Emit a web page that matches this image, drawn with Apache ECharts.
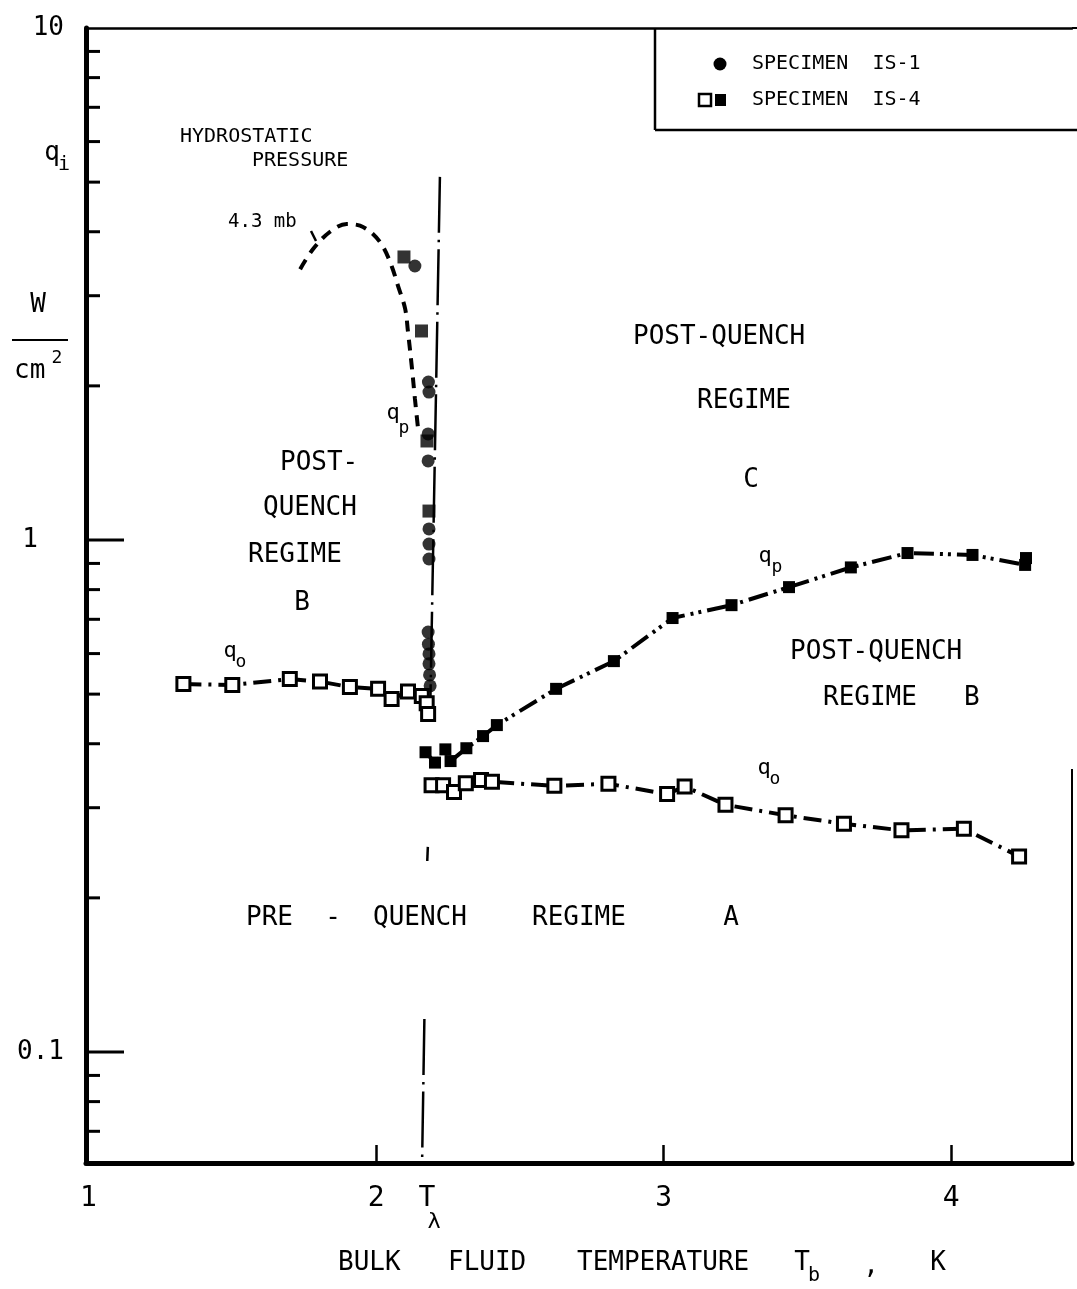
<!DOCTYPE html>
<html><head><meta charset="utf-8">
<script src="https://cdn.jsdelivr.net/npm/echarts@6/dist/echarts.min.js"></script>
<style>html,body{margin:0;padding:0;background:#fff}#c{width:1077px;height:1289px}</style>
</head><body><div id="c"></div>
<script>
// ---------- data (T in K, q in W/cm^2) ----------
// q_o, specimen IS-4 (open squares), below T-lambda
const qoLeftT = [1.33, 1.50, 1.70, 1.805, 1.909, 2.007, 2.054, 2.111, 2.159, 2.176, 2.181];
const qoLeftQ = [0.523, 0.521, 0.535, 0.529, 0.516, 0.512, 0.489, 0.506, 0.496, 0.480, 0.457];
// q_o, specimen IS-4 (open squares), above T-lambda
const qoRightT = [2.193, 2.233, 2.271, 2.312, 2.365, 2.403, 2.620, 2.808, 3.012, 3.073, 3.215, 3.424, 3.627, 3.827, 4.044, 4.236];
const qoRightQ = [0.332, 0.332, 0.322, 0.335, 0.340, 0.337, 0.331, 0.334, 0.319, 0.330, 0.304, 0.290, 0.279, 0.271, 0.273, 0.241];
// q_p, specimen IS-4 (filled squares), above T-lambda
const qpRightT = [2.172, 2.205, 2.241, 2.259, 2.314, 2.372, 2.420, 2.626, 2.827, 3.031, 3.236, 3.436, 3.651, 3.848, 4.074, 4.257, 4.260];
const qpRightQ = [0.385, 0.3675, 0.390, 0.370, 0.392, 0.414, 0.435, 0.512, 0.580, 0.704, 0.746, 0.809, 0.884, 0.943, 0.935, 0.894, 0.922];
// q_p near T-lambda, specimen IS-4 (filled squares)
const qpIS4T = [2.097, 2.158, 2.177, 2.184];
const qpIS4Q = [3.571, 2.560, 1.561, 1.139];
// q_p near T-lambda, specimen IS-1 (filled circles)
const qpIS1T = [2.135, 2.182, 2.184, 2.181, 2.181, 2.184, 2.184, 2.184, 2.181, 2.182, 2.184, 2.184, 2.186, 2.188];
const qpIS1Q = [3.429, 2.035, 1.945, 1.611, 1.427, 1.051, 0.982, 0.918, 0.661, 0.626, 0.599, 0.573, 0.545, 0.519];
// hydrostatic pressure 4.3 mb curve
const hydroT = [1.736, 1.781, 1.840, 1.898, 1.944, 1.989, 2.024, 2.054, 2.076, 2.101, 2.111, 2.125, 2.135, 2.146];
const hydroQ = [3.38, 3.70, 4.00, 4.14, 4.11, 3.96, 3.74, 3.43, 3.14, 2.83, 2.55, 2.16, 1.89, 1.65];
// T-lambda reference line (visible pieces)
const lambdaSegT = [[2.222, 2.189], [2.180, 2.178], [2.168, 2.160]];
const lambdaSegQ = [[5.12, 0.489], [0.2515, 0.236], [0.116, 0.0607]];
// axes
const X_MIN = 0.9913, X_MAX = 4.42, Y_MIN = 0.0607, Y_MAX = 10;
const xLabels = [1, 2, 3, 4];
const xTicks = [2, 3, 4];
const yMinorTicks = [9, 8, 7, 6, 5, 4, 3, 2, 0.9, 0.8, 0.7, 0.6, 0.5, 0.4, 0.3, 0.2, 0.09, 0.08, 0.07];
const yMajorTicks = [1, 0.1];
const rightBorderQ = [0.0607, 0.357];

// ---------- chart ----------
const BLACK = '#000';
const FONT = '"DejaVu Sans Mono", monospace';
const DASH_DOT = [18, 7, 3, 7];
const DASH_DOT_DOT = [20, 6, 3, 5, 3, 6];
const pair = (xs, ys) => xs.map((x, i) => [x, ys[i]]);

function txt(x, y, s, size, align) {
  return { type: 'text', x: x, y: y, silent: true, z: 100,
    style: { text: s, fill: BLACK, fontSize: size, fontFamily: FONT,
      textAlign: align || 'left', align: align || 'left', textVerticalAlign: 'middle', verticalAlign: 'middle' } };
}
function ln(x1, y1, x2, y2, w) {
  return { type: 'line', silent: true, z: 100, shape: { x1, y1, x2, y2 }, style: { stroke: BLACK, lineWidth: w || 2.5 } };
}

const chart = echarts.init(document.getElementById('c'), null, { renderer: 'canvas' });
const near = (a, b) => Math.abs(a - b) < 1e-9 * Math.max(1, b);

const option = {
  animation: false,
  backgroundColor: '#fff',
  grid: { left: 86, right: 5, top: 28, bottom: 126 },
  xAxis: [{
    type: 'value', min: X_MIN, max: X_MAX,
    axisLine: { show: true, onZero: false, lineStyle: { color: BLACK, width: 5 } },
    axisTick: { show: true, inside: true, length: 18, customValues: xTicks, lineStyle: { color: BLACK, width: 2.5 } },
    axisLabel: { customValues: xLabels, margin: 22, color: BLACK, fontSize: 28, fontFamily: FONT, formatter: v => String(v) },
    splitLine: { show: false }
  }, {
    type: 'value', position: 'top', min: X_MIN, max: X_MAX,
    axisLine: { show: true, onZero: false, lineStyle: { color: BLACK, width: 2.5 } },
    axisTick: { show: false }, axisLabel: { show: false }, splitLine: { show: false }
  }],
  yAxis: {
    type: 'log', logBase: 10, min: Y_MIN, max: Y_MAX,
    axisLine: { show: true, onZero: false, lineStyle: { color: BLACK, width: 5 } },
    axisTick: { show: false }, minorTick: { show: false }, splitLine: { show: false },
    axisLabel: {
      margin: 22, color: BLACK, fontSize: 26, fontFamily: FONT,
      formatter: v => near(v, 10) ? '10' : near(v, 1) ? '{one|1}' : near(v, 0.1) ? '0.1' : '',
      rich: { one: { fontSize: 26, fontFamily: FONT, color: BLACK, padding: [0, 26, 0, 0] } }
    }
  },
  series: [
    // y axis ticks
    {
      type: 'custom', silent: true, z: 5,
      renderItem: (params, api) => {
        const p = api.coord([api.value(0), api.value(1)]);
        return { type: 'line', shape: { x1: p[0], y1: p[1], x2: p[0] + api.value(2), y2: p[1] },
          style: { stroke: BLACK, lineWidth: 3 } };
      },
      data: yMinorTicks.map(v => [X_MIN, v, 14]).concat(yMajorTicks.map(v => [X_MIN, v, 38]))
    },
    // right border piece
    { type: 'line', data: rightBorderQ.map(q => [X_MAX, q]), symbol: 'none', silent: true,
      lineStyle: { color: BLACK, width: 2 } },
    // T-lambda line
    ...lambdaSegT.map((xs, i) => ({
      type: 'line', data: pair(xs, lambdaSegQ[i]), symbol: 'none', silent: true, z: 1,
      lineStyle: { color: BLACK, width: 2.5, type: [56, 7, 2.5, 7] }
    })),
    // hydrostatic pressure curve
    { type: 'line', data: pair(hydroT, hydroQ), smooth: 0.35, symbol: 'none', z: 2,
      lineStyle: { color: BLACK, width: 4, type: [11, 8] } },
    // q_o left
    { type: 'line', data: pair(qoLeftT, qoLeftQ), symbol: 'rect', symbolSize: 13, z: 3,
      itemStyle: { color: '#fff', borderColor: BLACK, borderWidth: 3 },
      lineStyle: { color: BLACK, width: 4, type: DASH_DOT } },
    // q_o right
    { type: 'line', data: pair(qoRightT, qoRightQ), symbol: 'rect', symbolSize: 13, z: 3,
      itemStyle: { color: '#fff', borderColor: BLACK, borderWidth: 3 },
      lineStyle: { color: BLACK, width: 4, type: DASH_DOT } },
    // q_p right
    { type: 'line', data: pair(qpRightT, qpRightQ), symbol: 'rect', symbolSize: 12, z: 4,
      itemStyle: { color: BLACK },
      lineStyle: { color: BLACK, width: 4, type: DASH_DOT_DOT } },
    // q_p IS-4 near T-lambda
    { type: 'scatter', data: pair(qpIS4T, qpIS4Q), symbol: 'rect', symbolSize: 13, z: 4,
      itemStyle: { color: BLACK } },
    // q_p IS-1 near T-lambda
    { type: 'scatter', data: pair(qpIS1T, qpIS1Q), symbol: 'circle', symbolSize: 13, z: 4,
      itemStyle: { color: BLACK } }
  ],
  graphic: [
    // legend box
    ln(655, 28, 655, 130, 2.5), ln(655, 130, 1077, 130, 2.5), ln(1072, 28, 1077, 28, 2),
    { type: 'circle', z: 100, shape: { cx: 720, cy: 64, r: 6.5 }, style: { fill: BLACK } },
    { type: 'rect', z: 100, shape: { x: 699, y: 94, width: 12, height: 12 }, style: { fill: '#fff', stroke: BLACK, lineWidth: 2.5 } },
    { type: 'rect', z: 100, shape: { x: 715, y: 94, width: 11, height: 12 }, style: { fill: BLACK } },
    txt(752, 64, 'SPECIMEN  IS-1', 20),
    txt(752, 100, 'SPECIMEN  IS-4', 20),
    // y axis title
    txt(52, 153, 'q', 26, 'center'), txt(64, 165, 'i', 20, 'center'),
    txt(38, 305, 'W', 26, 'center'),
    ln(12, 340, 68, 340, 2),
    txt(14, 371, 'cm', 26), txt(57, 358, '2', 18, 'center'),
    // annotations
    txt(180, 137, 'HYDROSTATIC', 20), txt(252, 161, 'PRESSURE', 20),
    txt(228, 222, '4.3 mb', 19), ln(311, 231, 316, 241, 2.5),
    txt(393, 413, 'q', 22, 'center'), txt(404, 428, 'p', 18, 'center'),
    txt(280, 463, 'POST-', 26), txt(263, 508, 'QUENCH', 26), txt(248, 555, 'REGIME', 26), txt(302, 603, 'B', 26, 'center'),
    txt(230, 651, 'q', 22, 'center'), txt(241, 662, 'o', 18, 'center'),
    txt(633, 337, 'POST-QUENCH', 26), txt(697, 401, 'REGIME', 26), txt(751, 480, 'C', 26, 'center'),
    txt(765, 556, 'q', 22, 'center'), txt(777, 567, 'p', 18, 'center'),
    txt(790, 652, 'POST-QUENCH', 26), txt(823, 698, 'REGIME   B', 26),
    txt(764, 768, 'q', 22, 'center'), txt(775, 779, 'o', 18, 'center'),
    txt(246, 918, 'PRE', 26), txt(333, 918, '-', 26, 'center'), txt(373, 918, 'QUENCH', 26),
    txt(532, 918, 'REGIME', 26), txt(731, 918, 'A', 26, 'center'),
    // x axis extras
    txt(427, 1199, 'T', 28, 'center'), txt(434, 1222, 'λ', 22, 'center'),
    txt(338, 1263, 'BULK', 26), txt(448, 1263, 'FLUID', 26), txt(577, 1263, 'TEMPERATURE', 26),
    txt(802, 1263, 'T', 26, 'center'), txt(814, 1276, 'b', 20, 'center'),
    txt(871, 1266, ',', 26, 'center'), txt(938, 1263, 'K', 26, 'center')
  ]
};
chart.setOption(option);
</script></body></html>
